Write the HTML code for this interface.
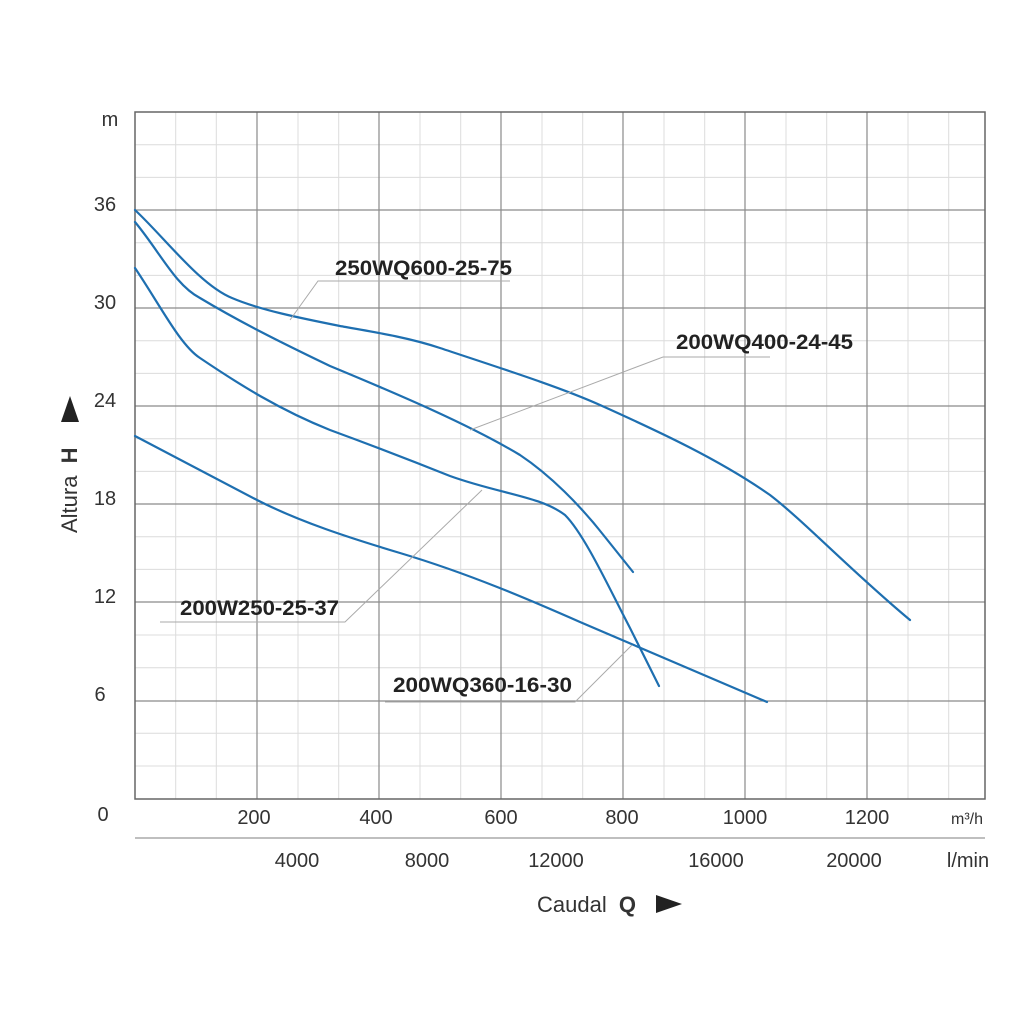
<!DOCTYPE html><html><head><style>body{margin:0;background:#fff}</style></head><body>
<svg width="1024" height="1024" xmlns="http://www.w3.org/2000/svg" font-family="Liberation Sans, Arial, sans-serif">
<rect width="1024" height="1024" fill="#fff"/>
<g stroke="#dcdcdc" stroke-width="1">
<path d="M175.7 112V799M216.3 112V799M298 112V799M338.7 112V799M420 112V799M460.7 112V799M542 112V799M582.7 112V799M664 112V799M704.7 112V799M786 112V799M826.7 112V799M908 112V799M948.7 112V799"/>
<path d="M135 144.7H985M135 177.4H985M135 242.7H985M135 275.4H985M135 340.7H985M135 373.4H985M135 438.7H985M135 471.4H985M135 536.7H985M135 569.4H985M135 635H985M135 667.7H985M135 733.3H985M135 766H985"/>
</g>
<g stroke="#8a8a8a" stroke-width="1.2">
<path d="M257 112V799M379 112V799M501 112V799M623 112V799M745 112V799M867 112V799"/>
<path d="M135 210H985M135 308H985M135 406H985M135 504H985M135 602H985M135 701H985"/>
</g>
<rect x="135" y="112" width="850" height="687" fill="none" stroke="#666" stroke-width="1.5"/>
<line x1="135" y1="838" x2="985" y2="838" stroke="#999" stroke-width="1.2"/>
<g fill="none" stroke="#1e6fb0" stroke-width="2.2" stroke-linecap="round">
<path d="M135 210 C165 238 200 285 232 298 C260 310 300 318 340 326 C380 333 410 338 440 348 C500 368 560 387 600 405 C660 432 720 460 770 495 C805 522 850 570 910 620"/>
<path d="M135 222 C160 252 175 285 200 298 C240 322 280 342 330 366 C400 395 470 425 520 455 C550 475 580 505 605 537 L633 572"/>
<path d="M135 268 C160 305 180 345 200 358 C240 385 280 410 330 430 C390 452 420 464 450 476 C500 494 540 496 565 515 C585 535 610 590 630 628 L659 686"/>
<path d="M135 436 L257 500 C300 522 350 538 400 553 C470 574 530 600 580 622 L767 702"/>
</g>
<g fill="none" stroke="#aaa" stroke-width="1">
<path d="M290 320 L318 281 L510 281"/>
<path d="M470 430 L663 357 L770 357"/>
<path d="M482 490 L345 622 L160 622"/>
<path d="M632 645 L575 702 L385 702"/>
</g>
<g font-weight="bold" font-size="21" fill="#222">
<text x="335" y="275" textLength="177" lengthAdjust="spacingAndGlyphs">250WQ600-25-75</text>
<text x="676" y="349" textLength="177" lengthAdjust="spacingAndGlyphs">200WQ400-24-45</text>
<text x="180" y="615" textLength="159" lengthAdjust="spacingAndGlyphs">200W250-25-37</text>
<text x="393" y="692" textLength="179" lengthAdjust="spacingAndGlyphs">200WQ360-16-30</text>
</g>
<g font-size="20" fill="#333" text-anchor="middle">
<text x="110" y="126">m</text>
<text x="105" y="211">36</text><text x="105" y="309">30</text><text x="105" y="407">24</text>
<text x="105" y="505">18</text><text x="105" y="603">12</text><text x="100" y="701">6</text><text x="103" y="821">0</text>
<text x="254" y="824">200</text><text x="376" y="824">400</text><text x="501" y="824">600</text>
<text x="622" y="824">800</text><text x="745" y="824">1000</text><text x="867" y="824">1200</text>
<text x="967" y="824" font-size="16">m³/h</text>
<text x="297" y="867">4000</text><text x="427" y="867">8000</text><text x="556" y="867">12000</text>
<text x="716" y="867">16000</text><text x="854" y="867">20000</text>
<text x="968" y="867">l/min</text>
</g>
<text x="537" y="912" font-size="22" fill="#333">Caudal <tspan font-weight="bold" dx="6">Q</tspan></text>
<polygon points="656,895 656,913 682,904" fill="#222"/>
<g transform="translate(77,533) rotate(-90)">
<text x="0" y="0" font-size="22" fill="#333">Altura <tspan font-weight="bold" dx="6">H</tspan></text>
<polygon points="111,-16 111,2 137,-7" fill="#222"/>
</g>
</svg>
</body></html>
